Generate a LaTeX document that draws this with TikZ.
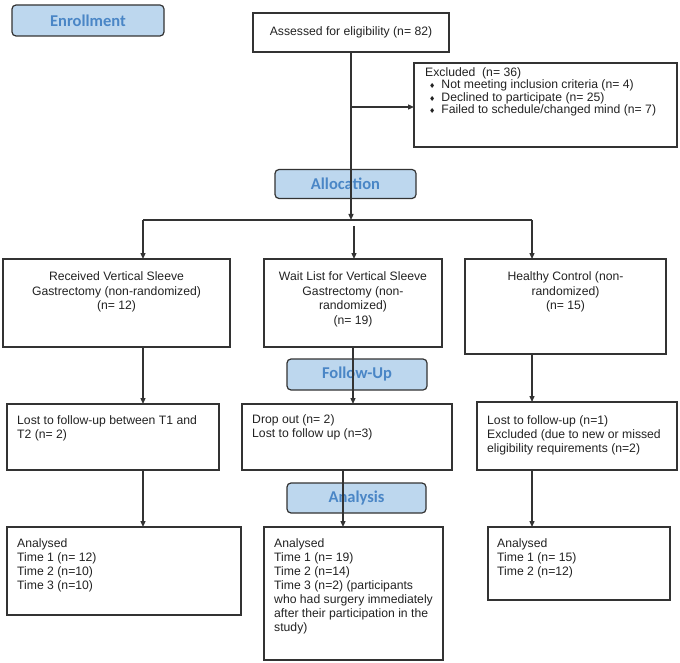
\documentclass[tikz,border=0pt]{standalone}
\usepackage{fontspec}
\setmainfont{Liberation Sans}
\newfontfamily\lblfont{Carlito}
\newfontfamily\symfont{DejaVu Sans}
\usetikzlibrary{arrows.meta,calc}
\definecolor{lblfill}{HTML}{BDD7EE}
\definecolor{lbltext}{HTML}{4A86C6}
\definecolor{edgec}{HTML}{333333}
\definecolor{textc}{HTML}{222222}
\newcommand{\bul}{\hspace*{4pt}{\symfont\fontsize{7}{7}\selectfont ♦}\hspace*{6pt}}
\begin{document}
\begin{tikzpicture}[x=1pt,y=-1pt,
  boxn/.style={draw=edgec, line width=1.2pt, rectangle, inner sep=0pt, outer sep=0pt, anchor=north west},
  lbl/.style={draw=edgec, fill=lblfill, line width=1.2pt, rounded corners=4pt, inner sep=0pt, outer sep=0pt,
    font=\lblfont\bfseries\fontsize{16.5}{18}\selectfont, text=lbltext},
  txt/.style={inner sep=0pt, font=\fontsize{12.2}{14}\selectfont, text=textc},
  ln/.style={draw=edgec, line width=1.3pt},
  arr/.style={ln, -{Triangle[length=6pt,width=5pt]}}]
\useasboundingbox (0,0) rectangle (680,663);

% phase labels
\node[lbl, minimum width=152pt, minimum height=31pt] (enr) at (88,20.5) {Enrollment};
\node[lbl, minimum width=141pt, minimum height=29pt] (alloc) at (345.5,184) {Allocation};
\node[lbl, minimum width=140pt, minimum height=31pt] (fup) at (357,374.5) {Follow-Up};
\node[lbl, minimum width=139pt, minimum height=30pt] (anl) at (356.5,498) {Analysis};

% boxes
\node[boxn, minimum width=196pt, minimum height=39pt] (assess) at (253,13) {};
\node[boxn, minimum width=263pt, minimum height=84pt] (excl) at (414,63) {};
\node[boxn, minimum width=227pt, minimum height=88pt] (rvsg) at (3,259) {};
\node[boxn, minimum width=178pt, minimum height=88pt] (wait) at (264,259) {};
\node[boxn, minimum width=201pt, minimum height=95pt] (hc) at (465,259) {};
\node[boxn, minimum width=212pt, minimum height=66pt] (lost1) at (7,404) {};
\node[boxn, minimum width=210pt, minimum height=66pt] (drop) at (242,404) {};
\node[boxn, minimum width=200pt, minimum height=68pt] (lost3) at (477,402) {};
\node[boxn, minimum width=234pt, minimum height=88pt] (an1) at (7,527) {};
\node[boxn, minimum width=179pt, minimum height=133pt] (an2) at (264,527) {};
\node[boxn, minimum width=182pt, minimum height=73pt] (an3) at (488,527) {};

% texts
\node[txt, anchor=center] (tassess) at (assess.center) {Assessed for eligibility (n= 82)};
\node[txt, anchor=north west, align=left, font=\fontsize{12.2}{12.4}\selectfont] (texcl) at (425,67.5)
  {Excluded\ \ (n= 36)\\\bul Not meeting inclusion criteria (n= 4)\\\bul Declined to participate (n= 25)\\\bul Failed to schedule/changed mind (n= 7)};
\node[txt, anchor=north, align=center, font=\fontsize{12.2}{14.5}\selectfont] (trvsg) at (116.5,271.5)
  {Received Vertical Sleeve\\Gastrectomy (non-randomized)\\(n= 12)};
\node[txt, anchor=north, align=center, font=\fontsize{12.2}{14.5}\selectfont] (twait) at (353,271.5)
  {Wait List for Vertical Sleeve\\Gastrectomy (non-\\randomized)\\(n= 19)};
\node[txt, anchor=north, align=center, font=\fontsize{12.2}{14.5}\selectfont] (thc) at (565.5,271.5)
  {Healthy Control (non-\\randomized)\\(n= 15)};
\node[txt, anchor=north west, align=left] (tlost1) at (17,415.5)
  {Lost to follow-up between T1 and\\T2 (n= 2)};
\node[txt, anchor=north west, align=left] (tdrop) at (252,414.5)
  {Drop out (n= 2)\\Lost to follow up (n=3)};
\node[txt, anchor=north west, align=left] (tlost3) at (487,415.5)
  {Lost to follow-up (n=1)\\Excluded (due to new or missed\\eligibility requirements (n=2)};
\node[txt, anchor=north west, align=left] (tan1) at (17,538.5)
  {Analysed\\Time 1 (n= 12)\\Time 2 (n=10)\\Time 3 (n=10)};
\node[txt, anchor=north west, align=left] (tan2) at (274,538.5)
  {Analysed\\Time 1 (n= 19)\\Time 2 (n=14)\\Time 3 (n=2) (participants\\who had surgery immediately\\after their participation in the\\study)};
\node[txt, anchor=north west, align=left] (tan3) at (497,538.5)
  {Analysed\\Time 1 (n= 15)\\Time 2 (n=12)};

% connectors
\coordinate (split) at (351,220);
\coordinate (exj) at (351,107);
\coordinate (bl) at (143,220);
\coordinate (br) at (532,220);
\coordinate (bm) at (354,226);
\coordinate (m1) at (353,0);
\coordinate (m2) at (343,0);
\draw[arr] (assess.south) -- (split);
\draw[arr] (exj) -- (exj -| excl.west);
\draw[ln] (bl) -- (br);
\draw[arr] (bl) -- (bl |- rvsg.north);
\draw[arr] (br) -- (br |- hc.north);
\draw[arr] (bm) -- (bm |- wait.north);
\draw[arr] (rvsg.south -| bl) -- (lost1.north -| bl);
\draw[arr] (lost1.south -| bl) -- (an1.north -| bl);
\draw[arr] (wait.south -| m1) -- (drop.north -| m1);
\draw[arr] (drop.south -| m2) -- (an2.north -| m2);
\draw[arr] (hc.south -| br) -- (lost3.north -| br);
\draw[arr] (lost3.south -| br) -- (an3.north -| br);
\end{tikzpicture}
\end{document}
